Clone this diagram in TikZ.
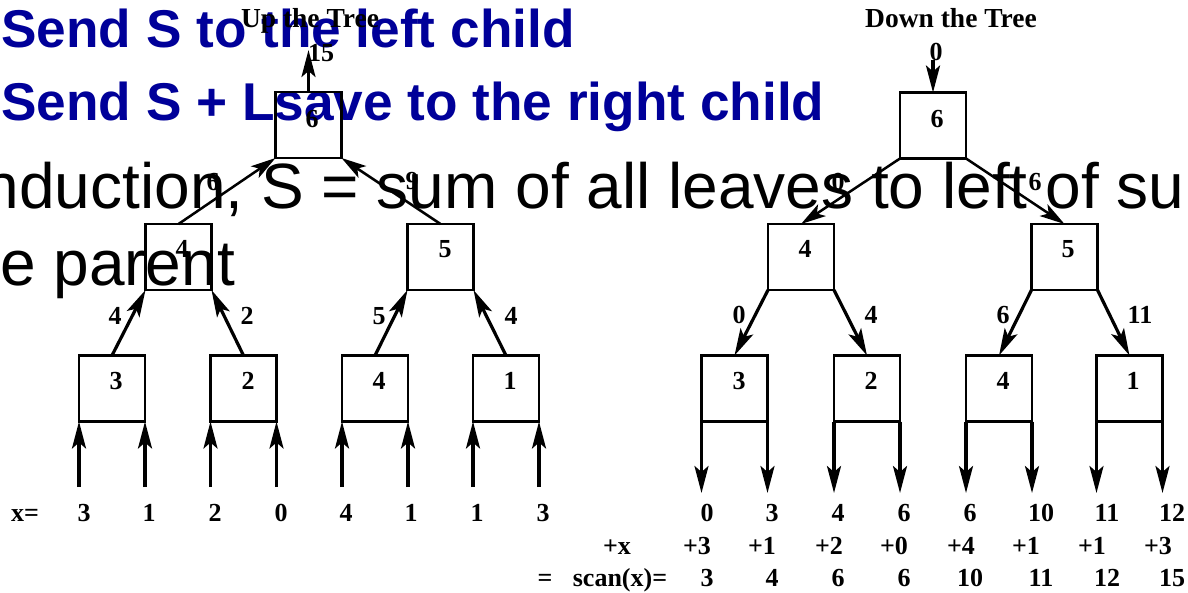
\documentclass[tikz,border=0pt]{standalone}
\usepackage{fontspec}
\setmainfont{Liberation Serif}
\setsansfont{Liberation Sans}
\usetikzlibrary{arrows.meta}
\definecolor{slideblue}{RGB}{0,0,153}
\begin{document}
\begin{tikzpicture}[x=1pt,y=-1pt,
  box/.style={draw,line width=2.7pt,minimum width=66pt,minimum height=66pt,inner sep=0pt,outer sep=0pt},
  num/.style={font=\fontsize{26}{30}\selectfont\bfseries,inner sep=0pt,anchor=base},
  ttl/.style={font=\fontsize{27.5}{30}\selectfont\bfseries,inner sep=0pt,anchor=base},
  arr/.style={line width=3.2pt,-{Stealth[length=27pt,width=14pt,inset=6pt]}},
  darr/.style={line width=2.5pt,-{Stealth[length=25pt,width=14pt,inset=6pt]}},
  bluetxt/.style={text=slideblue,font=\fontsize{53.2}{60}\selectfont\sffamily\bfseries,inner sep=0pt,anchor=base west},
  blacktxt/.style={text=black,font=\fontsize{64}{75}\selectfont\sffamily,inner sep=0pt,anchor=base west}
]
\useasboundingbox (0,0) rectangle (1188,592);
\fill[white] (0,0) rectangle (1188,592);
\clip (0,0) rectangle (1188,592);

% overlaid slide text
\node[bluetxt] (t1) at (1,47) {Send S to the left child};
\node[bluetxt] (t2) at (1,120) {Send S + Lsave to the right child};
\node[blacktxt] (t3) at (-16.5,208) {nduction, S = sum of all leaves to left of sub};
\node[blacktxt] (t4) at (0,285) {e parent};

% ================= Up the Tree =================
\node[ttl] (upt) at (310,27) {Up the Tree};
\node[box] (ur) at (308.5,125) {};
\node[box] (um4) at (178.5,257) {};
\node[box] (um5) at (440.5,257) {};
\node[box] (ul3) at (112,388.5) {};
\node[box] (ul2) at (243.5,388.5) {};
\node[box] (ul4) at (375,388.5) {};
\node[box] (ul1) at (506,388.5) {};
\node[num] (urn) at (312,127) {6};
\node[num] (um4n) at (182,257) {4};
\node[num] (um5n) at (445,257) {5};
\node[num] (ul3n) at (116,389) {3};
\node[num] (ul2n) at (248,389) {2};
\node[num] (ul4n) at (379,389) {4};
\node[num] (ul1n) at (510,389) {1};

\coordinate (utop) at (308.5,50);
\draw[arr] (ur.north) -- (utop);
\node[num] (u15) at (321,61) {15};

\draw[darr] (um4.north) -- (ur.south west);
\draw[darr] (um5.north) -- (ur.south east);
\node[num] (ue6) at (213,190) {6};
\node[num] (ue9) at (412,189) {9};

\draw[arr] (ul3.north) -- (um4.south west);
\draw[arr] (ul2.north) -- (um4.south east);
\draw[arr] (ul4.north) -- (um5.south west);
\draw[arr] (ul1.north) -- (um5.south east);
\node[num] (ue4a) at (115,324) {4};
\node[num] (ue2) at (247,324) {2};
\node[num] (ue5) at (379,324) {5};
\node[num] (ue4b) at (511,324) {4};

\foreach \n/\x/\s [count=\i] in {ul3/79/south west,ul3/145/south east,ul2/210.5/south west,ul2/276.5/south east,ul4/342/south west,ul4/408/south east,ul1/473/south west,ul1/539/south east}{
  \coordinate (ub\i) at (\x,487);
  \draw[arr] (ub\i) -- (\n.\s);
}
\node[num] (xeq) at (25,521) {x=};
\foreach \v/\x [count=\i] in {3/84,1/149,2/215,0/281,4/346,1/411,1/477,3/543}{
  \node[num] (xv\i) at (\x,521) {\v};
}

% ================= Down the Tree =================
\node[ttl] (dnt) at (951,27) {Down the Tree};
\node[box] (dr) at (933,125.5) {};
\node[box] (dm4) at (801,257) {};
\node[box] (dm5) at (1064.5,257) {};
\node[box] (dl3) at (734.5,388.5) {};
\node[box] (dl2) at (867,388.5) {};
\node[box] (dl4) at (999,388.5) {};
\node[box] (dl1) at (1129.5,388.5) {};
\node[num] (drn) at (937,127) {6};
\node[num] (dm4n) at (805,257) {4};
\node[num] (dm5n) at (1068,257) {5};
\node[num] (dl3n) at (739,389) {3};
\node[num] (dl2n) at (871,389) {2};
\node[num] (dl4n) at (1003,389) {4};
\node[num] (dl1n) at (1133,389) {1};

\coordinate (dtop) at (933,60);
\draw[arr] (dtop) -- (dr.north);
\node[num] (d0) at (936,60) {0};

\draw[darr] (dr.south west) -- (dm4.north);
\draw[darr] (dr.south east) -- (dm5.north);
\node[num] (de0) at (838,190) {0};
\node[num] (de6) at (1035,190) {6};

\draw[arr] (dm4.south west) -- (dl3.north);
\draw[arr] (dm4.south east) -- (dl2.north);
\draw[arr] (dm5.south west) -- (dl4.north);
\draw[arr] (dm5.south east) -- (dl1.north);
\node[num] (de0b) at (739,323) {0};
\node[num] (de4) at (871,323) {4};
\node[num] (de6b) at (1003,323) {6};
\node[num] (de11) at (1140,323) {11};

\foreach \n/\x/\s [count=\i] in {dl3/701.5/south west,dl3/767.5/south east,dl2/834/south west,dl2/900/south east,dl4/966/south west,dl4/1032/south east,dl1/1096.5/south west,dl1/1162.5/south east}{
  \coordinate (db\i) at (\x,493);
  \draw[arr] (\n.\s) -- (db\i);
}
\foreach \v/\x [count=\i] in {0/707,3/772,4/838,6/904,6/970,10/1041,11/1107,12/1172}{
  \node[num] (ra\i) at (\x,521) {\v};
}
\node[num] (px) at (617,554) {+x};
\foreach \v/\x [count=\i] in {+3/697,+1/762,+2/829,+0/894,+4/961,+1/1026,+1/1092,+3/1158}{
  \node[num] (rb\i) at (\x,554) {\v};
}
\node[num] (eqs) at (545,586) {=};
\node[num] (scan) at (620,586) {scan(x)=};
\foreach \v/\x [count=\i] in {3/707,4/772,6/838,6/904,10/970,11/1041,12/1107,15/1172}{
  \node[num] (rc\i) at (\x,586) {\v};
}
\end{tikzpicture}
\end{document}
